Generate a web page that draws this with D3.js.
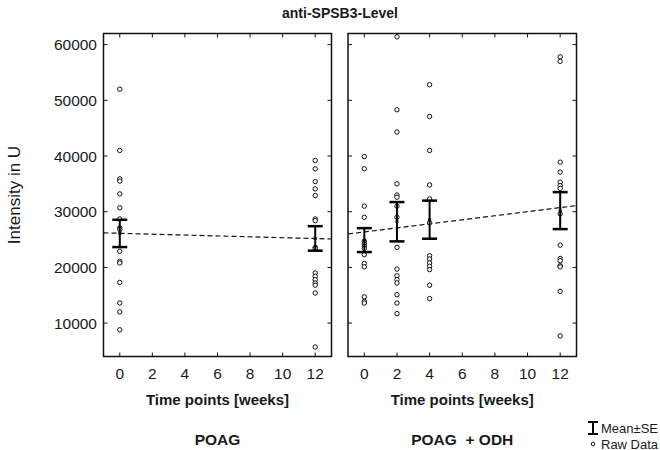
<!DOCTYPE html>
<html lang="en">
<head>
<meta charset="UTF-8">
<title>anti-SPSB3-Level</title>
<script src="https://d3js.org/d3.v7.min.js"></script>
<style>
  body { margin: 0; background: #fff; }
  text { font-family: Arial, "Liberation Sans", sans-serif; fill: #1a1a1a; }
</style>
</head>
<body>
<script>
// --- data ---
const yTicks = [10000, 20000, 30000, 40000, 50000, 60000];
const xTicks = [0, 2, 4, 6, 8, 10, 12];

// POAG raw data
const poagW0 = [52000, 41000, 35900, 35500, 33200, 30700, 28700, 27100, 26800, 22900, 21100, 20800, 17300, 13600, 12000, 8800];
const poagW12 = [39200, 37700, 35400, 34100, 32900, 28700, 28400, 23600, 23400, 19000, 18400, 17800, 17200, 16800, 15400, 5700];

// POAG + ODH raw data
const odhW0 = [39900, 37700, 31000, 29000, 24700, 24200, 23800, 23400, 22300, 20700, 20100, 14700, 13900, 13600];
const odhW2 = [61400, 48300, 44300, 35000, 33000, 32600, 31000, 29000, 23600, 19700, 18500, 17800, 17200, 15100, 13600, 11700];
const odhW4 = [52800, 47100, 41000, 34800, 32300, 28000, 22100, 21500, 20800, 20200, 19600, 16800, 14400];
const odhW12 = [57800, 57000, 38900, 37100, 35300, 34700, 34200, 29600, 24000, 21600, 21200, 20300, 20100, 15700, 7700];

// mean and SE per time point
const poagWeeks = [0, 12];
const poagMean = [26100, 25200];
const poagSE = [2450, 2200];
const odhWeeks = [0, 2, 4, 12];
const odhMean = [24900, 28200, 28570, 30200];
const odhSE = [2150, 3530, 3420, 3320];

// dashed trend lines (ends at the frame)
const poagTrend = [[-1, 26200], [13, 25100]];
const odhTrend = [[-1, 26000], [13, 31100]];

const panels = [
  { name: "POAG", left: 103.5, right: 331.5, raw: [[0, poagW0], [12, poagW12]],
    weeks: poagWeeks, mean: poagMean, se: poagSE, trend: poagTrend },
  { name: "POAG  + ODH", left: 348, right: 576.5, raw: [[0, odhW0], [2, odhW2], [4, odhW4], [12, odhW12]],
    weeks: odhWeeks, mean: odhMean, se: odhSE, trend: odhTrend }
];

const svg = d3.select("body").append("svg")
  .attr("width", 660).attr("height", 450);

const plotTop = 33.5, plotBottom = 356.5;
const y = d3.scaleLinear().domain([4000, 62000]).range([plotBottom, plotTop]);

// title
svg.append("text")
  .attr("x", 340).attr("y", 18)
  .attr("text-anchor", "middle")
  .attr("font-size", 14).attr("font-weight", "bold")
  .text("anti-SPSB3-Level");

// y axis label
svg.append("text")
  .attr("transform", "translate(20,195) rotate(-90)")
  .attr("text-anchor", "middle")
  .attr("font-size", 17)
  .text("Intensity in U");

// y tick labels (left panel only)
svg.append("g").selectAll("text")
  .data(yTicks).enter().append("text")
  .attr("x", 97).attr("y", d => y(d) + 5.5)
  .attr("text-anchor", "end")
  .attr("font-size", 15.5)
  .text(d => d);

panels.forEach(p => {
  const x = d3.scaleLinear().domain([-1, 13]).range([p.left, p.right]);
  const g = svg.append("g");
  const tl = 4;

  // ticks on all four sides, pointing inward
  const tk = g.append("g").attr("stroke", "#111").attr("stroke-width", 1);
  xTicks.forEach(t => {
    tk.append("line").attr("x1", x(t)).attr("x2", x(t)).attr("y1", plotBottom).attr("y2", plotBottom - tl);
    tk.append("line").attr("x1", x(t)).attr("x2", x(t)).attr("y1", plotTop).attr("y2", plotTop + tl);
  });
  yTicks.forEach(t => {
    tk.append("line").attr("x1", p.left).attr("x2", p.left + tl).attr("y1", y(t)).attr("y2", y(t));
    tk.append("line").attr("x1", p.right).attr("x2", p.right - tl).attr("y1", y(t)).attr("y2", y(t));
  });

  // frame
  g.append("rect")
    .attr("x", p.left).attr("y", plotTop)
    .attr("width", p.right - p.left).attr("height", plotBottom - plotTop)
    .attr("fill", "none").attr("stroke", "#111").attr("stroke-width", 1.5);

  // x tick labels
  g.selectAll("text.xt")
    .data(xTicks).enter().append("text")
    .attr("class", "xt")
    .attr("x", d => x(d)).attr("y", 379)
    .attr("text-anchor", "middle")
    .attr("font-size", 15.5)
    .text(d => d);

  const cx = (p.left + p.right) / 2;
  g.append("text")
    .attr("x", cx).attr("y", 405)
    .attr("text-anchor", "middle")
    .attr("font-size", 15).attr("font-weight", "bold")
    .text("Time points [weeks]");

  g.append("text")
    .attr("x", cx).attr("y", 445)
    .attr("text-anchor", "middle")
    .attr("font-size", 15.5).attr("font-weight", "bold")
    .style("white-space", "pre")
    .text(p.name);

  // trend line
  const line = d3.line().x(d => x(d[0])).y(d => y(d[1]));
  g.append("path")
    .attr("d", line(p.trend))
    .attr("fill", "none").attr("stroke", "#111")
    .attr("stroke-width", 1.2).attr("stroke-dasharray", "5,3");

  // raw data
  p.raw.forEach(([wk, vals]) => {
    g.append("g").selectAll("circle")
      .data(vals).enter().append("circle")
      .attr("cx", x(wk)).attr("cy", d => y(d))
      .attr("r", 2.2)
      .attr("fill", "#fff").attr("stroke", "#111").attr("stroke-width", 1);
  });

  // mean ± SE
  p.weeks.forEach((wk, i) => {
    const xm = x(wk), hi = y(p.mean[i] + p.se[i]), lo = y(p.mean[i] - p.se[i]);
    const eb = g.append("g").attr("stroke", "#000").attr("stroke-width", 2.5);
    eb.append("line").attr("x1", xm).attr("x2", xm).attr("y1", hi).attr("y2", lo).attr("stroke-width", 2);
    eb.append("line").attr("x1", xm - 7.5).attr("x2", xm + 7.5).attr("y1", hi).attr("y2", hi);
    eb.append("line").attr("x1", xm - 7.5).attr("x2", xm + 7.5).attr("y1", lo).attr("y2", lo);
    g.append("rect")
      .attr("x", xm - 1.5).attr("y", y(p.mean[i]) - 1.5)
      .attr("width", 3).attr("height", 3)
      .attr("fill", "#111");
  });
});

// legend
const lg = svg.append("g");
lg.append("g").attr("stroke", "#000").attr("stroke-width", 2)
  .call(s => {
    s.append("line").attr("x1", 593).attr("x2", 593).attr("y1", 422).attr("y2", 434);
    s.append("line").attr("x1", 588).attr("x2", 598).attr("y1", 422).attr("y2", 422);
    s.append("line").attr("x1", 588).attr("x2", 598).attr("y1", 434).attr("y2", 434);
  });
lg.append("text").attr("x", 601).attr("y", 432.5).attr("font-size", 13).text("Mean±SE");
lg.append("circle").attr("cx", 593).attr("cy", 444).attr("r", 1.8)
  .attr("fill", "#fff").attr("stroke", "#111").attr("stroke-width", 1);
lg.append("text").attr("x", 601).attr("y", 448.5).attr("font-size", 13).text("Raw Data");
</script>
</body>
</html>
